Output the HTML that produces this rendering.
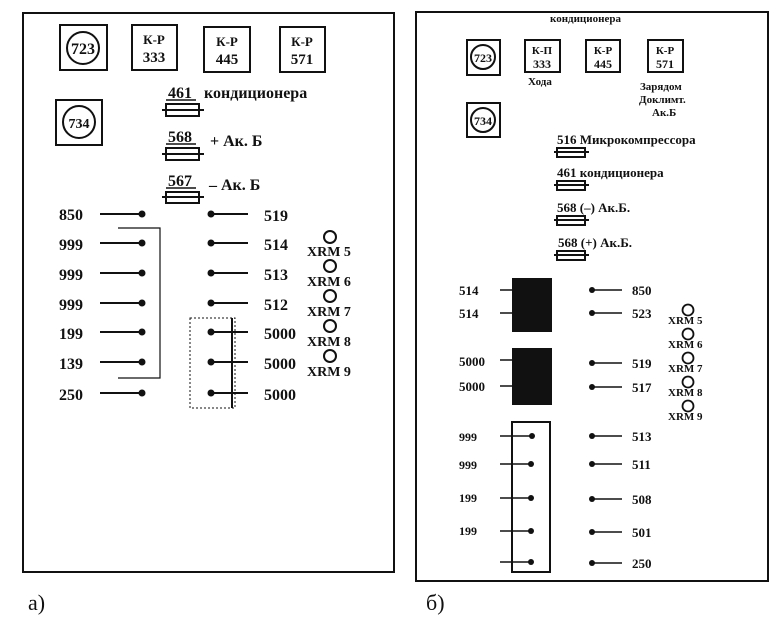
<!DOCTYPE html>
<html><head><meta charset="utf-8"><style>
html,body{margin:0;padding:0;background:#fff}
svg{display:block}
text{font-family:"Liberation Serif","DejaVu Serif",serif;font-weight:bold;fill:#111}
.L{font-size:16px}
.R{font-size:13px}
.s{font-size:11px}
</style></head><body>
<svg width="778" height="617" viewBox="0 0 778 617" xmlns="http://www.w3.org/2000/svg">
<g stroke="#111" fill="none">
<!-- left frame -->
<rect x="23" y="13" width="371" height="559" stroke-width="2"/>
<!-- right frame -->
<rect x="416" y="12" width="352" height="569" stroke-width="2"/>

<!-- LEFT top boxes -->
<rect x="60" y="25" width="47" height="45" stroke-width="2"/>
<circle cx="83" cy="48" r="16" stroke-width="2"/>
<rect x="132" y="25" width="45" height="45" stroke-width="2"/>
<rect x="204" y="27" width="46" height="45" stroke-width="2"/>
<rect x="280" y="27" width="45" height="45" stroke-width="2"/>
<rect x="56" y="100" width="46" height="45" stroke-width="2"/>
<circle cx="79" cy="122" r="16" stroke-width="2"/>
<!-- fuses left -->
<rect x="166" y="104" width="33" height="12" stroke-width="2"/><line x1="162" y1="110" x2="204" y2="110" stroke-width="2"/>
<rect x="166" y="148" width="33" height="12" stroke-width="2"/><line x1="162" y1="154" x2="204" y2="154" stroke-width="2"/>
<rect x="166" y="192" width="33" height="11" stroke-width="2"/><line x1="162" y1="197" x2="204" y2="197" stroke-width="2"/>
<line x1="166" y1="100" x2="196" y2="100" stroke-width="1.5"/>
<line x1="166" y1="144" x2="196" y2="144" stroke-width="1.5"/>
<line x1="166" y1="188" x2="196" y2="188" stroke-width="1.5"/>
<!-- left rows -->
<g stroke-width="2">
<line x1="100" y1="214" x2="142" y2="214"/><line x1="100" y1="243" x2="142" y2="243"/>
<line x1="100" y1="273" x2="142" y2="273"/><line x1="100" y1="303" x2="142" y2="303"/>
<line x1="100" y1="332" x2="142" y2="332"/><line x1="100" y1="362" x2="142" y2="362"/>
<line x1="100" y1="393" x2="142" y2="393"/>
<line x1="211" y1="214" x2="248" y2="214"/><line x1="211" y1="243" x2="248" y2="243"/>
<line x1="211" y1="273" x2="248" y2="273"/><line x1="211" y1="303" x2="248" y2="303"/>
<line x1="211" y1="332" x2="248" y2="332"/><line x1="211" y1="362" x2="248" y2="362"/>
<line x1="211" y1="393" x2="248" y2="393"/>
</g>
<polyline points="118,228 160,228 160,378 118,378" stroke-width="1.2"/>
<rect x="190" y="318" width="45" height="90" stroke-width="1" stroke-dasharray="2,2"/>
<line x1="232" y1="318" x2="232" y2="408" stroke-width="2"/>
<g stroke-width="2">
<circle cx="330" cy="237" r="6"/><circle cx="330" cy="266" r="6"/><circle cx="330" cy="296" r="6"/>
<circle cx="330" cy="326" r="6"/><circle cx="330" cy="356" r="6"/>
</g>

<!-- RIGHT top boxes -->
<rect x="467" y="40" width="33" height="35" stroke-width="2"/>
<circle cx="483" cy="57" r="12" stroke-width="2"/>
<rect x="525" y="40" width="35" height="32" stroke-width="2"/>
<rect x="586" y="40" width="34" height="32" stroke-width="2"/>
<rect x="648" y="40" width="35" height="32" stroke-width="2"/>
<rect x="467" y="103" width="33" height="34" stroke-width="2"/>
<circle cx="483" cy="120" r="12" stroke-width="2"/>
<g stroke-width="2">
<rect x="557" y="148" width="28" height="9"/><line x1="554" y1="152" x2="589" y2="152"/>
<rect x="557" y="181" width="28" height="9"/><line x1="554" y1="185" x2="589" y2="185"/>
<rect x="557" y="216" width="28" height="9"/><line x1="554" y1="220" x2="589" y2="220"/>
<rect x="557" y="251" width="28" height="9"/><line x1="554" y1="255" x2="589" y2="255"/>
</g>
<rect x="512" y="278" width="40" height="54" fill="#111" stroke="none"/>
<rect x="512" y="348" width="40" height="57" fill="#111" stroke="none"/>
<g stroke-width="1.5">
<line x1="500" y1="290" x2="512" y2="290"/><line x1="500" y1="313" x2="512" y2="313"/>
<line x1="500" y1="360" x2="512" y2="360"/><line x1="500" y1="386" x2="512" y2="386"/>
<line x1="592" y1="290" x2="622" y2="290"/><line x1="592" y1="313" x2="622" y2="313"/>
<line x1="592" y1="363" x2="622" y2="363"/><line x1="592" y1="387" x2="622" y2="387"/>
<line x1="592" y1="436" x2="622" y2="436"/><line x1="592" y1="464" x2="622" y2="464"/>
<line x1="592" y1="499" x2="622" y2="499"/><line x1="592" y1="532" x2="622" y2="532"/>
<line x1="592" y1="563" x2="622" y2="563"/>
<line x1="500" y1="436" x2="532" y2="436"/><line x1="500" y1="464" x2="532" y2="464"/>
<line x1="500" y1="498" x2="532" y2="498"/><line x1="500" y1="531" x2="532" y2="531"/>
<line x1="500" y1="562" x2="532" y2="562"/>
</g>
<rect x="512" y="422" width="38" height="150" stroke-width="2"/>
<g stroke-width="1.8">
<circle cx="688" cy="310" r="5.5"/><circle cx="688" cy="334" r="5.5"/><circle cx="688" cy="358" r="5.5"/>
<circle cx="688" cy="382" r="5.5"/><circle cx="688" cy="406" r="5.5"/>
</g>
</g>
<g fill="#111">
<circle cx="142" cy="214" r="3.5"/><circle cx="142" cy="243" r="3.5"/><circle cx="142" cy="273" r="3.5"/>
<circle cx="142" cy="303" r="3.5"/><circle cx="142" cy="332" r="3.5"/><circle cx="142" cy="362" r="3.5"/>
<circle cx="142" cy="393" r="3.5"/>
<circle cx="211" cy="214" r="3.5"/><circle cx="211" cy="243" r="3.5"/><circle cx="211" cy="273" r="3.5"/>
<circle cx="211" cy="303" r="3.5"/><circle cx="211" cy="332" r="3.5"/><circle cx="211" cy="362" r="3.5"/>
<circle cx="211" cy="393" r="3.5"/>
<circle cx="592" cy="290" r="3"/><circle cx="592" cy="313" r="3"/><circle cx="592" cy="363" r="3"/>
<circle cx="592" cy="387" r="3"/><circle cx="592" cy="436" r="3"/><circle cx="592" cy="464" r="3"/>
<circle cx="592" cy="499" r="3"/><circle cx="592" cy="532" r="3"/><circle cx="592" cy="563" r="3"/>
<circle cx="532" cy="436" r="3"/><circle cx="531" cy="464" r="3"/><circle cx="531" cy="498" r="3"/>
<circle cx="531" cy="531" r="3"/><circle cx="531" cy="562" r="3"/>
</g>

<!-- LEFT text -->
<text class="L" x="83" y="54" text-anchor="middle" font-size="14">723</text>
<text x="154" y="44" text-anchor="middle" font-size="13">К-Р</text>
<text x="154" y="62" text-anchor="middle" font-size="15">333</text>
<text x="227" y="46" text-anchor="middle" font-size="13">К-Р</text>
<text x="227" y="64" text-anchor="middle" font-size="15">445</text>
<text x="302" y="46" text-anchor="middle" font-size="13">К-Р</text>
<text x="302" y="64" text-anchor="middle" font-size="15">571</text>
<text x="79" y="128" text-anchor="middle" font-size="14">734</text>
<text class="L" x="168" y="98">461</text>
<text class="L" x="204" y="98">кондиционера</text>
<text class="L" x="168" y="142">568</text>
<text class="L" x="210" y="146">+ Ак. Б</text>
<text class="L" x="168" y="186">567</text>
<text class="L" x="209" y="190">– Ак. Б</text>
<g class="L">
<text x="59" y="220">850</text><text x="59" y="250">999</text><text x="59" y="280">999</text>
<text x="59" y="310">999</text><text x="59" y="339">199</text><text x="59" y="369">139</text>
<text x="59" y="400">250</text>
<text x="264" y="221">519</text><text x="264" y="250">514</text><text x="264" y="280">513</text>
<text x="264" y="310">512</text><text x="264" y="339">5000</text><text x="264" y="369">5000</text>
<text x="264" y="400">5000</text>
</g>
<g font-size="14">
<text x="307" y="256" class="L" style="font-size:14px">XRM 5</text>
<text x="307" y="286" style="font-size:14px">XRM 6</text>
<text x="307" y="316" style="font-size:14px">XRM 7</text>
<text x="307" y="346" style="font-size:14px">XRM 8</text>
<text x="307" y="376" style="font-size:14px">XRM 9</text>
</g>
<text x="28" y="610" style="font-size:22px;font-weight:normal">а)</text>

<!-- RIGHT text -->
<text class="s" x="550" y="22">кондиционера</text>
<text x="483" y="62" text-anchor="middle" font-size="12">723</text>
<text x="483" y="125" text-anchor="middle" font-size="12">734</text>
<text x="542" y="54" text-anchor="middle" font-size="11">К-П</text>
<text x="542" y="68" text-anchor="middle" font-size="12">333</text>
<text x="603" y="54" text-anchor="middle" font-size="11">К-Р</text>
<text x="603" y="68" text-anchor="middle" font-size="12">445</text>
<text x="665" y="54" text-anchor="middle" font-size="11">К-Р</text>
<text x="665" y="68" text-anchor="middle" font-size="12">571</text>
<text class="s" x="528" y="85">Хода</text>
<text class="s" x="640" y="90">Зарядом</text>
<text class="s" x="639" y="103">Доклимт.</text>
<text class="s" x="652" y="116">Ак.Б</text>
<text class="R" x="557" y="144">516 Микрокомпрессора</text>
<text class="R" x="557" y="177">461 кондиционера</text>
<text class="R" x="557" y="212">568 (–) Ак.Б.</text>
<text class="R" x="558" y="247">568 (+) Ак.Б.</text>
<g class="R">
<text x="459" y="295">514</text><text x="459" y="318">514</text>
<text x="459" y="366">5000</text><text x="459" y="391">5000</text>
<text x="632" y="295">850</text><text x="632" y="318">523</text>
<text x="632" y="368">519</text><text x="632" y="392">517</text>
<text x="632" y="441">513</text><text x="632" y="469">511</text>
<text x="632" y="504">508</text><text x="632" y="537">501</text>
<text x="632" y="568">250</text>
<text x="459" y="441" style="font-size:12px">999</text><text x="459" y="469" style="font-size:12px">999</text>
<text x="459" y="502" style="font-size:12px">199</text><text x="459" y="535" style="font-size:12px">199</text>
</g>
<g class="s">
<text x="668" y="324">XRM 5</text><text x="668" y="348">XRM 6</text>
<text x="668" y="372">XRM 7</text><text x="668" y="396">XRM 8</text>
<text x="668" y="420">XRM 9</text>
</g>
<text x="426" y="610" style="font-size:22px;font-weight:normal">б)</text>
</svg>
</body></html>
